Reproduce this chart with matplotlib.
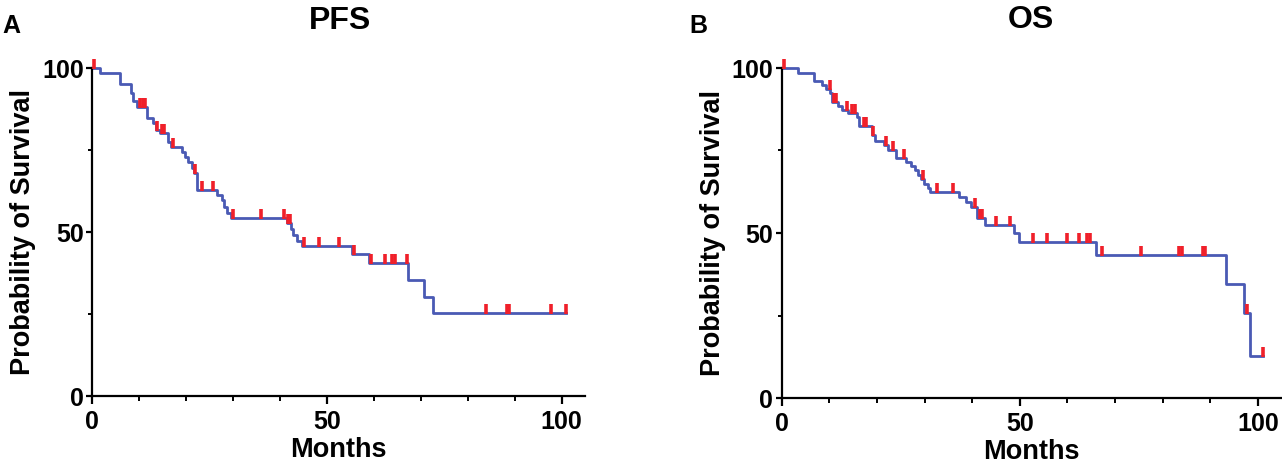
import numpy as np
import matplotlib.pyplot as plt
from matplotlib.path import Path
from matplotlib.ticker import MultipleLocator, FixedLocator

plt.rcParams['font.family'] = ['Liberation Sans', 'DejaVu Sans']
plt.rcParams['font.weight'] = 'bold'

# PFS: event times (months) and survival (%) after each step
pfs_t = [0, 1.7, 6.0, 8.3, 8.8, 9.5, 11.7, 12.9, 13.6, 14.4, 16.1, 16.8, 19.1, 19.8,
         20.5, 21.3, 21.8, 22.3, 26.6, 27.6, 28.1, 28.7, 29.6, 41.5, 42.4, 42.9,
         43.6, 44.7, 55.4, 59.1, 67.3, 70.8, 72.6]
pfs_s = [100, 98.6, 95.1, 92.5, 90.0, 88.0, 84.7, 83.1, 81.1, 80.1, 77.5, 76.0, 74.5, 72.8,
         71.2, 69.5, 68.0, 62.8, 61.3, 59.8, 57.7, 55.7, 54.2, 52.6, 50.8, 49.2,
         47.4, 45.7, 43.2, 40.6, 35.4, 30.3, 25.4]
pfs_cens = [0.5, 10.3, 10.8, 11.3, 13.9, 14.9, 15.4, 17.3, 22.0, 23.4, 25.7, 30.1, 36.0,
            40.8, 41.8, 42.2, 45.1, 48.3, 52.7, 55.7, 59.4, 62.3, 64.0, 64.6, 67.1,
            83.9, 88.4, 88.9, 97.8, 100.9]

# OS
os_t = [0, 3.4, 6.7, 8.5, 9.2, 10.2, 10.6, 11.8, 12.7, 13.9, 15.9, 16.2, 19.0, 19.5,
        21.4, 22.3, 23.9, 26.2, 27.2, 27.9, 28.6, 29.2, 29.9, 30.7, 31.2, 37.2, 38.8,
        39.8, 41.0, 42.6, 48.7, 49.8, 65.9, 93.4, 97.1, 98.4]
os_s = [100, 98.6, 96.1, 94.8, 93.6, 92.3, 89.8, 88.5, 87.3, 86.3, 85.3, 82.5, 79.8, 77.8,
        76.6, 75.3, 72.8, 71.6, 70.3, 69.0, 67.6, 66.3, 64.8, 63.5, 62.3, 60.8, 59.3,
        57.8, 54.5, 52.3, 50.0, 47.3, 43.3, 34.6, 25.8, 12.8]
os_cens = [0.5, 10.1, 10.9, 11.3, 13.7, 14.8, 15.3, 17.2, 17.7, 19.2, 21.8, 23.4, 25.6,
           29.7, 32.7, 36.0, 40.5, 41.6, 42.1, 45.0, 48.0, 52.7, 55.8, 59.9, 62.4, 64.2,
           64.7, 67.2, 75.5, 83.5, 84.0, 88.4, 88.9, 97.8, 101.0]

blue = '#4a5ab4'
red = '#f0202a'
tick_mark = Path([(0, -0.1), (0, 1.0)])


def draw_km(ax, t, s, cens):
    t = np.array(t)
    s = np.array(s)
    end = max(cens)
    x = np.append(t, end)
    y = np.append(s, s[-1])
    ax.step(x, y, where='post', color=blue, lw=2.0, clip_on=False, zorder=2)
    idx = np.searchsorted(t, cens, side='right') - 1
    ax.plot(cens, s[idx], ls='none', marker=tick_mark, ms=13, mew=2.6,
            mec=red, clip_on=False, zorder=3)

    ax.set_xlim(0, 105)
    ax.set_ylim(0, 100)
    for sp in ['top', 'right']:
        ax.spines[sp].set_visible(False)
    ax.spines['left'].set_linewidth(1.6)
    ax.spines['bottom'].set_linewidth(1.6)
    ax.spines['left'].set_bounds(0, 100)
    ax.xaxis.set_major_locator(FixedLocator([0, 50, 100]))
    ax.xaxis.set_minor_locator(MultipleLocator(10))
    ax.yaxis.set_major_locator(FixedLocator([0, 50, 100]))
    ax.yaxis.set_minor_locator(FixedLocator([25, 75]))
    ax.tick_params(axis='x', which='major', length=6, width=1.6, labelsize=18, pad=4)
    ax.tick_params(axis='x', which='minor', length=3.5, width=1.4)
    ax.tick_params(axis='y', which='major', length=4, width=1.6, labelsize=18, pad=2)
    ax.tick_params(axis='y', which='minor', length=3, width=1.4)
    for lab in ax.get_xticklabels() + ax.get_yticklabels():
        lab.set_fontweight('bold')
    ax.set_xlabel('Months', fontsize=19.5, fontweight='bold', labelpad=2)
    ax.set_ylabel('Probability of Survival', fontsize=19.5, fontweight='bold', labelpad=4)


fig = plt.figure(figsize=(12.82, 4.65), dpi=100)
axA = fig.add_axes([92 / 1282, (465 - 396) / 465, (585 - 92) / 1282, (396 - 68) / 465])
axB = fig.add_axes([781.7 / 1282, (465 - 398) / 465, 500 / 1282, (398 - 68) / 465])

draw_km(axA, pfs_t, pfs_s, pfs_cens)
draw_km(axB, os_t, os_s, os_cens)

fig.text(340 / 1282, 1 - 29 / 465, 'PFS', fontsize=23, fontweight='bold', ha='center', va='baseline')
fig.text(1031 / 1282, 1 - 28 / 465, 'OS', fontsize=23, fontweight='bold', ha='center', va='baseline')
fig.text(2 / 1282, 1 - 33 / 465, 'A', fontsize=18, fontweight='bold', ha='left', va='baseline')
fig.text(689 / 1282, 1 - 33 / 465, 'B', fontsize=18, fontweight='bold', ha='left', va='baseline')

fig.savefig('out.png', dpi=100)
